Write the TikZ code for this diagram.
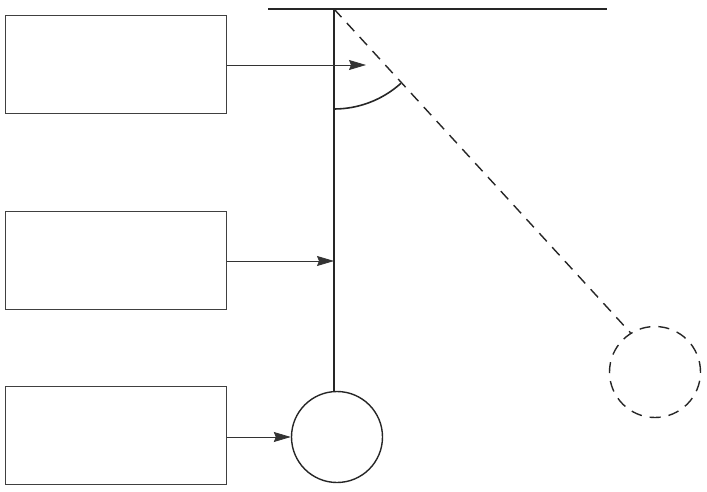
\documentclass[tikz,border=0pt]{standalone}
\usetikzlibrary{arrows.meta}
\begin{document}
\begin{tikzpicture}[x=1pt,y=-1pt,
  boxst/.style={draw=black!75,line width=0.8pt,minimum width=221pt,minimum height=98pt,inner sep=0pt,anchor=north west},
  mainline/.style={line width=1.4pt,black!85},
  feed/.style={line width=0.8pt,black!80,-{Stealth[length=17pt,width=10pt,inset=2pt]}},
  dashst/.style={line width=1.4pt,black!85,dash pattern=on 11pt off 8pt},
  bob/.style={circle,minimum size=91pt,inner sep=0pt,line width=1.4pt}]
\useasboundingbox (0,0) rectangle (707,492);
\node[boxst] (b1) at (5,15) {};
\node[boxst] (b2) at (5,211) {};
\node[boxst] (b3) at (5,386) {};
\coordinate (pivot) at (334,9);
\coordinate (ceilL) at (268,9);
\coordinate (ceilR) at (607,9);
\node[bob,draw=black!85] (bob1) at (337,437) {};
\node[bob,draw=black!85,dash pattern=on 11pt off 8pt] (bob2) at (655,372) {};
\coordinate (t1) at (366,65);
\coordinate (t2) at (334,261);
\draw[mainline] (ceilL) -- (ceilR);
\draw[mainline] (pivot) -- (bob1.north -| pivot);
\draw[dashst] (pivot) -- (bob2.{122});
\draw[line width=1.6pt,black!85] (pivot) ++(90:100) arc[start angle=90,end angle=48,radius=100];
\draw[feed] (b1.east |- t1) -- (t1);
\draw[feed] (b2.east |- t2) -- (t2);
\draw[feed] (b3.east |- bob1.west) -- (bob1.west);
\end{tikzpicture}
\end{document}
